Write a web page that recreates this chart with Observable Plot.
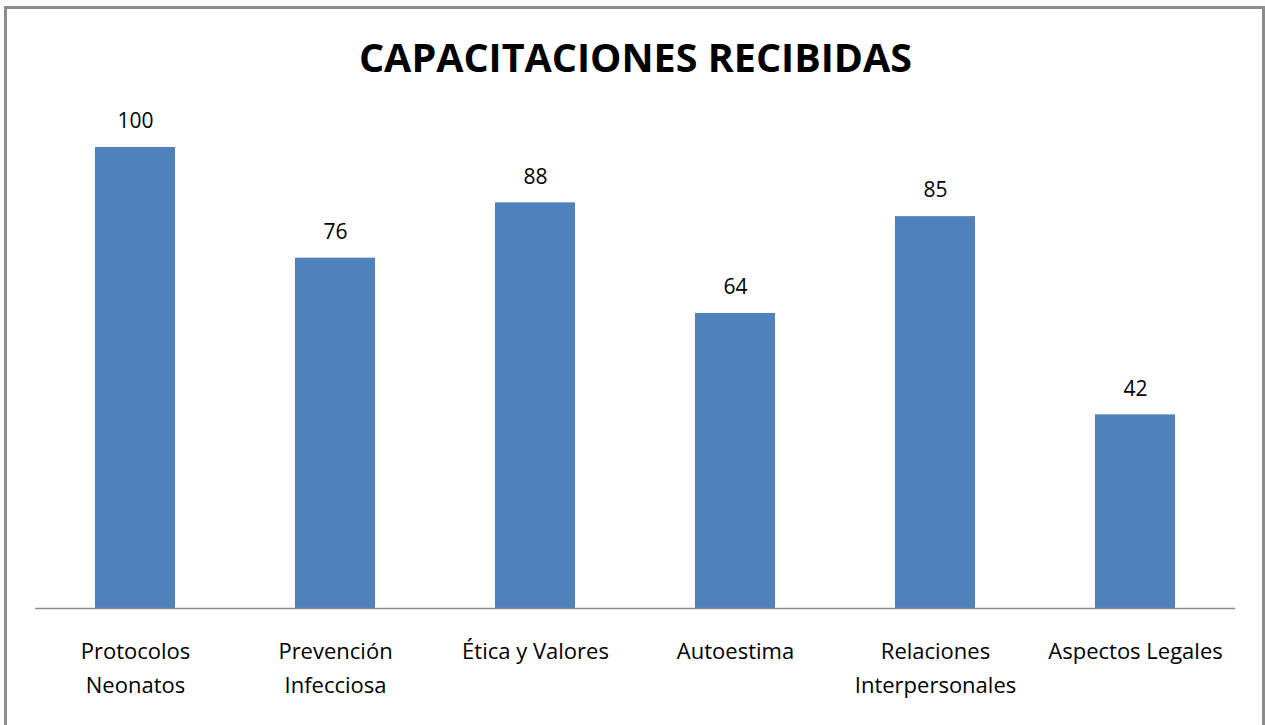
<!DOCTYPE html>
<html><head><meta charset="utf-8">
<script src="https://cdn.jsdelivr.net/npm/d3@7"></script>
<script src="https://cdn.jsdelivr.net/npm/@observablehq/plot@0.6"></script>
<style>
html,body{margin:0;padding:0;background:#fff;}
#wrap{position:relative;width:1265px;height:725px;overflow:hidden;}
#frame{position:absolute;left:4px;top:6px;width:1261px;height:730px;border:3px solid #8c8c8c;box-sizing:border-box;pointer-events:none;}
</style></head>
<body>
<div id="wrap"><div id="frame"></div></div>
<script>
const categories = ["Protocolos\nNeonatos","Prevención\nInfecciosa","Ética y Valores","Autoestima","Relaciones\nInterpersonales","Aspectos Legales"];
const values = [100, 76, 88, 64, 85, 42];
const title = "CAPACITACIONES RECIBIDAS";
const data = categories.map((c,i)=>({cat:c, v:values[i]}));
const font = "'Open Sans', 'Noto Sans', sans-serif";
const chart = Plot.plot({
  width:1265, height:725,
  marginLeft:35, marginRight:30, marginTop:147, marginBottom:117,
  style:{fontFamily:font, background:"transparent"},
  x:{domain:categories, paddingInner:0.6, paddingOuter:0.3, label:null},
  y:{domain:[0,100], axis:null},
  marks:[
    Plot.barY(data,{x:"cat", y:"v", fill:"#4F81BD"}),
    Plot.ruleY([0],{stroke:"#8c8c8c", strokeWidth:1.5}),
    Plot.text(data,{x:"cat", y:"v", text:d=>String(d.v), dy:-26, fontSize:21, fill:"#000"}),
    Plot.axisX({tickSize:0, tickPadding:26, fontSize:22, lineHeight:1.55, color:"#000", label:null}),
    Plot.text([title],{frameAnchor:"top", x:null, dy:-104, text:d=>d, fontSize:39.5, fontWeight:"bold", fill:"#000"})
  ]
});
document.getElementById("wrap").prepend(chart);
</script>
</body></html>
